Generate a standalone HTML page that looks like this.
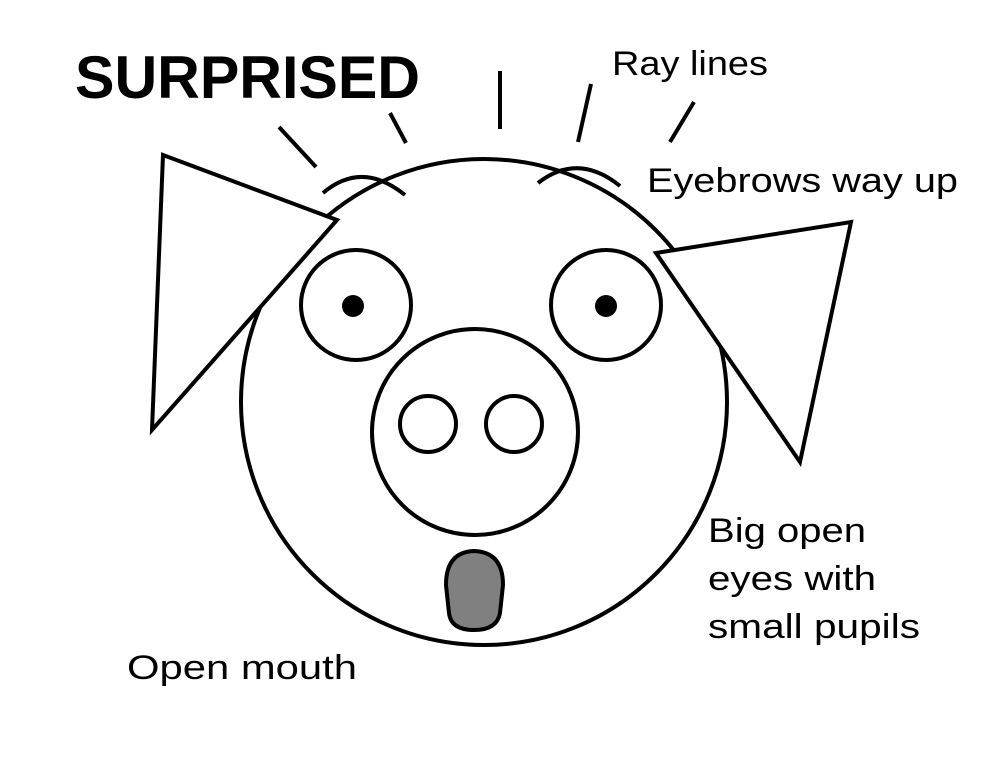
<!DOCTYPE html>
<html><head><meta charset="utf-8"><style>
html,body{margin:0;padding:0;background:#fff;}
svg{display:block}
text{font-family:"Liberation Sans",sans-serif;fill:#000}
</style></head><body>
<svg width="1000" height="773" viewBox="0 0 1000 773" xmlns="http://www.w3.org/2000/svg">
<g fill="none" stroke="#000" stroke-width="4" stroke-linecap="butt" stroke-linejoin="miter">
<circle cx="484" cy="402" r="243"/>
<polygon points="163,155 337,220 152,430" fill="#fff"/>
<polygon points="656,253 851,222 800,462" fill="#fff"/>
<circle cx="356" cy="305" r="55"/>
<circle cx="606" cy="305" r="55"/>
<circle cx="475" cy="432" r="103"/>
<circle cx="428" cy="424" r="28"/>
<circle cx="514" cy="424" r="28"/>
<path d="M323,193 Q362,160 405,195"/>
<path d="M538,183 Q578,152 620,186"/>
<line x1="279" y1="127" x2="316" y2="167"/>
<line x1="390" y1="113" x2="406" y2="143"/>
<line x1="500" y1="71" x2="500" y2="129"/>
<line x1="591" y1="84" x2="578" y2="142"/>
<line x1="694" y1="102" x2="670" y2="142"/>
<path d="M446,585 Q446,552 474,551 Q503,552 503,585 L500,613 Q497,630 474,630 Q451,630 449,613 Z" fill="#808080"/>
</g>
<circle cx="353" cy="306" r="11" fill="#000"/>
<circle cx="606" cy="306" r="11" fill="#000"/>
<text x="75" y="98" font-size="60" font-weight="bold" textLength="345" lengthAdjust="spacingAndGlyphs">SURPRISED</text>
<text x="612" y="75" font-size="34" textLength="156" lengthAdjust="spacingAndGlyphs">Ray lines</text>
<text x="647" y="192" font-size="34" textLength="311" lengthAdjust="spacingAndGlyphs">Eyebrows way up</text>
<text x="708" y="542" font-size="34" textLength="158" lengthAdjust="spacingAndGlyphs">Big open</text>
<text x="708" y="590" font-size="34" textLength="168" lengthAdjust="spacingAndGlyphs">eyes with</text>
<text x="708" y="638" font-size="34" textLength="212" lengthAdjust="spacingAndGlyphs">small pupils</text>
<text x="127" y="679" font-size="34" textLength="230" lengthAdjust="spacingAndGlyphs">Open mouth</text>
</svg>
</body></html>
